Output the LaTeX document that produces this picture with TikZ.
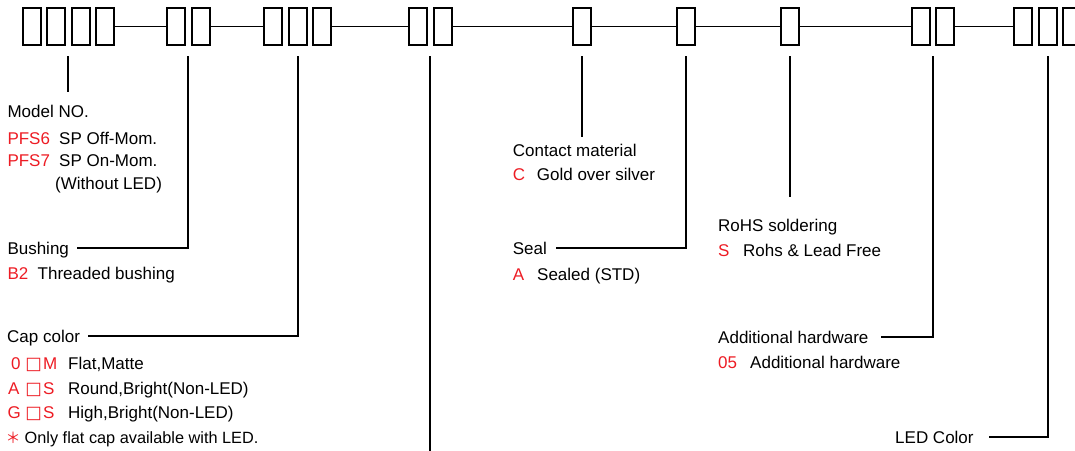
\documentclass[tikz,border=0pt]{standalone}
\usepackage{fontspec}
\setmainfont{Liberation Sans}
\newfontfamily\starfont{Noto Sans CJK SC}
\newfontfamily\sqfont{DejaVu Sans}
\newcommand\capsq{\makebox[16.5pt]{\hspace{-2.5pt}\raisebox{-0.5pt}{\sqfont\bfseries\fontsize{17.5}{18}\selectfont □}}}
\definecolor{codered}{RGB}{237,28,36}
\tikzset{
  digit/.style = {draw=black, line width=2pt, minimum width=18pt,
    minimum height=36.7pt, inner sep=0pt},
  lbl/.style = {anchor=west, inner sep=0pt, text height=12.2pt,
    text depth=0pt, font=\fontsize{17}{19}\selectfont},
  code/.style = {lbl, text=codered},
  leader/.style = {line width=2pt},
  link/.style = {line width=1.5pt}}

\begin{document}
\begin{tikzpicture}[x=1pt,y=-1pt]
\useasboundingbox (0,0) rectangle (1075,450);

% the code boxes, group by group
\foreach \grp/\x/\n in {a/31.7/4, b/176/2, c/273.4/3, d/418/2, e/581.7/1,
    f/686/1, g/789.6/1, h/920.6/2, k/1023.3/3}
  \foreach \i in {1,...,\n}
    \node [digit] (\grp\i) at ({\x+(\i-1)*24.5},26.7) {};

\draw [link] (a4.east) -- (b1.west);
\draw [link] (b2.east) -- (c1.west);
\draw [link] (c3.east) -- (d1.west);
\draw [link] (d2.east) -- (e1.west);
\draw [link] (e1.east) -- (f1.west);
\draw [link] (f1.east) -- (g1.west);
\draw [link] (g1.east) -- (h1.west);
\draw [link] (h2.east) -- (k1.west);

% tick starts under each group
\coordinate (ta) at ([xshift=12.25pt,yshift=-10pt]a2.south);
\coordinate (tb) at ([xshift=12.25pt,yshift=-10pt]b1.south);
\coordinate (tc) at ([yshift=-10pt]c2.south);
\coordinate (td) at ([xshift=12.25pt,yshift=-10pt]d1.south);
\coordinate (te) at ([yshift=-10pt]e1.south);
\coordinate (tf) at ([yshift=-10pt]f1.south);
\coordinate (tg) at ([yshift=-10pt]g1.south);
\coordinate (th) at ([xshift=12.25pt,yshift=-10pt]h1.south);
\coordinate (tk) at ([yshift=-10pt]k2.south);
\coordinate (dend) at (td |- 0,452);

% model
\node [lbl] (model) at (7.3,111) {Model NO.};
\node [code] (pfs6) at (7.3,138) {PFS6};
\node [lbl] (pfs6d) at (59,138) {SP Off-Mom.};
\node [code] (pfs7) at (7.3,160) {PFS7};
\node [lbl] (pfs7d) at (59,160) {SP On-Mom.};
\node [lbl] (noled) at (55,183) {(Without LED)};

% bushing
\node [lbl] (bush) at (7.3,248) {Bushing};
\node [code] (b2c) at (7.3,273) {B2};
\node [lbl] (b2d) at (37.5,273) {Threaded bushing};

% cap color
\node [lbl] (cap) at (7,336) {Cap color};
\node [code] (capm) at (11,363) {\makebox[15.5pt][l]{0}\capsq M};
\node [lbl] (capmd) at (68,363) {Flat,Matte};
\node [code] (caps) at (8,388) {\makebox[18.5pt][l]{A}\capsq S};
\node [lbl] (capsd) at (68,388) {Round,Bright(Non-LED)};
\node [code] (capg) at (7.5,412) {\makebox[19pt][l]{G}\capsq S};
\node [lbl] (capgd) at (68,412) {High,Bright(Non-LED)};
\node [code, anchor=center, font=\starfont\fontsize{15}{15}\selectfont] (star) at (13,437) {＊};
\node [lbl, font=\fontsize{16.3}{19}\selectfont] (noted) at (24.5,437) {Only flat cap available with LED.};

% contact and seal
\node [lbl] (contact) at (512.7,150) {Contact material};
\node [code] (cc) at (512.7,174) {C};
\node [lbl] (ccd) at (536.7,174) {Gold over silver};
\node [lbl] (seal) at (512.7,248) {Seal};
\node [code] (sa) at (512.7,274) {A};
\node [lbl] (sad) at (537,274) {Sealed (STD)};

% rohs, hardware, led
\node [lbl] (rohs) at (718,225) {RoHS soldering};
\node [code] (rs) at (718,250) {S};
\node [lbl] (rsd) at (743,250) {Rohs \& Lead Free};
\node [lbl] (addhw) at (718,337) {Additional hardware};
\node [code] (hw05) at (718,362) {05};
\node [lbl] (hw05d) at (750,362) {Additional hardware};
\node [lbl] (led) at (895,437) {LED Color};

\draw [leader, shorten >=13pt] (ta) -- (ta |- model.north);
\draw [leader] (tb) |- ([xshift=8pt]bush.east);
\draw [leader] (tc) |- ([xshift=8pt]cap.east);
\draw [leader] (td) -- (dend);
\draw [leader, shorten >=7pt] (te) -- (te |- contact.north);
\draw [leader] (tf) |- ([xshift=9pt]seal.east);
\draw [leader, shorten >=22pt] (tg) -- (tg |- rohs.north);
\draw [leader] (th) |- ([xshift=12pt]addhw.east);
\draw [leader] (tk) |- ([xshift=15pt]led.east);
\end{tikzpicture}
\end{document}
